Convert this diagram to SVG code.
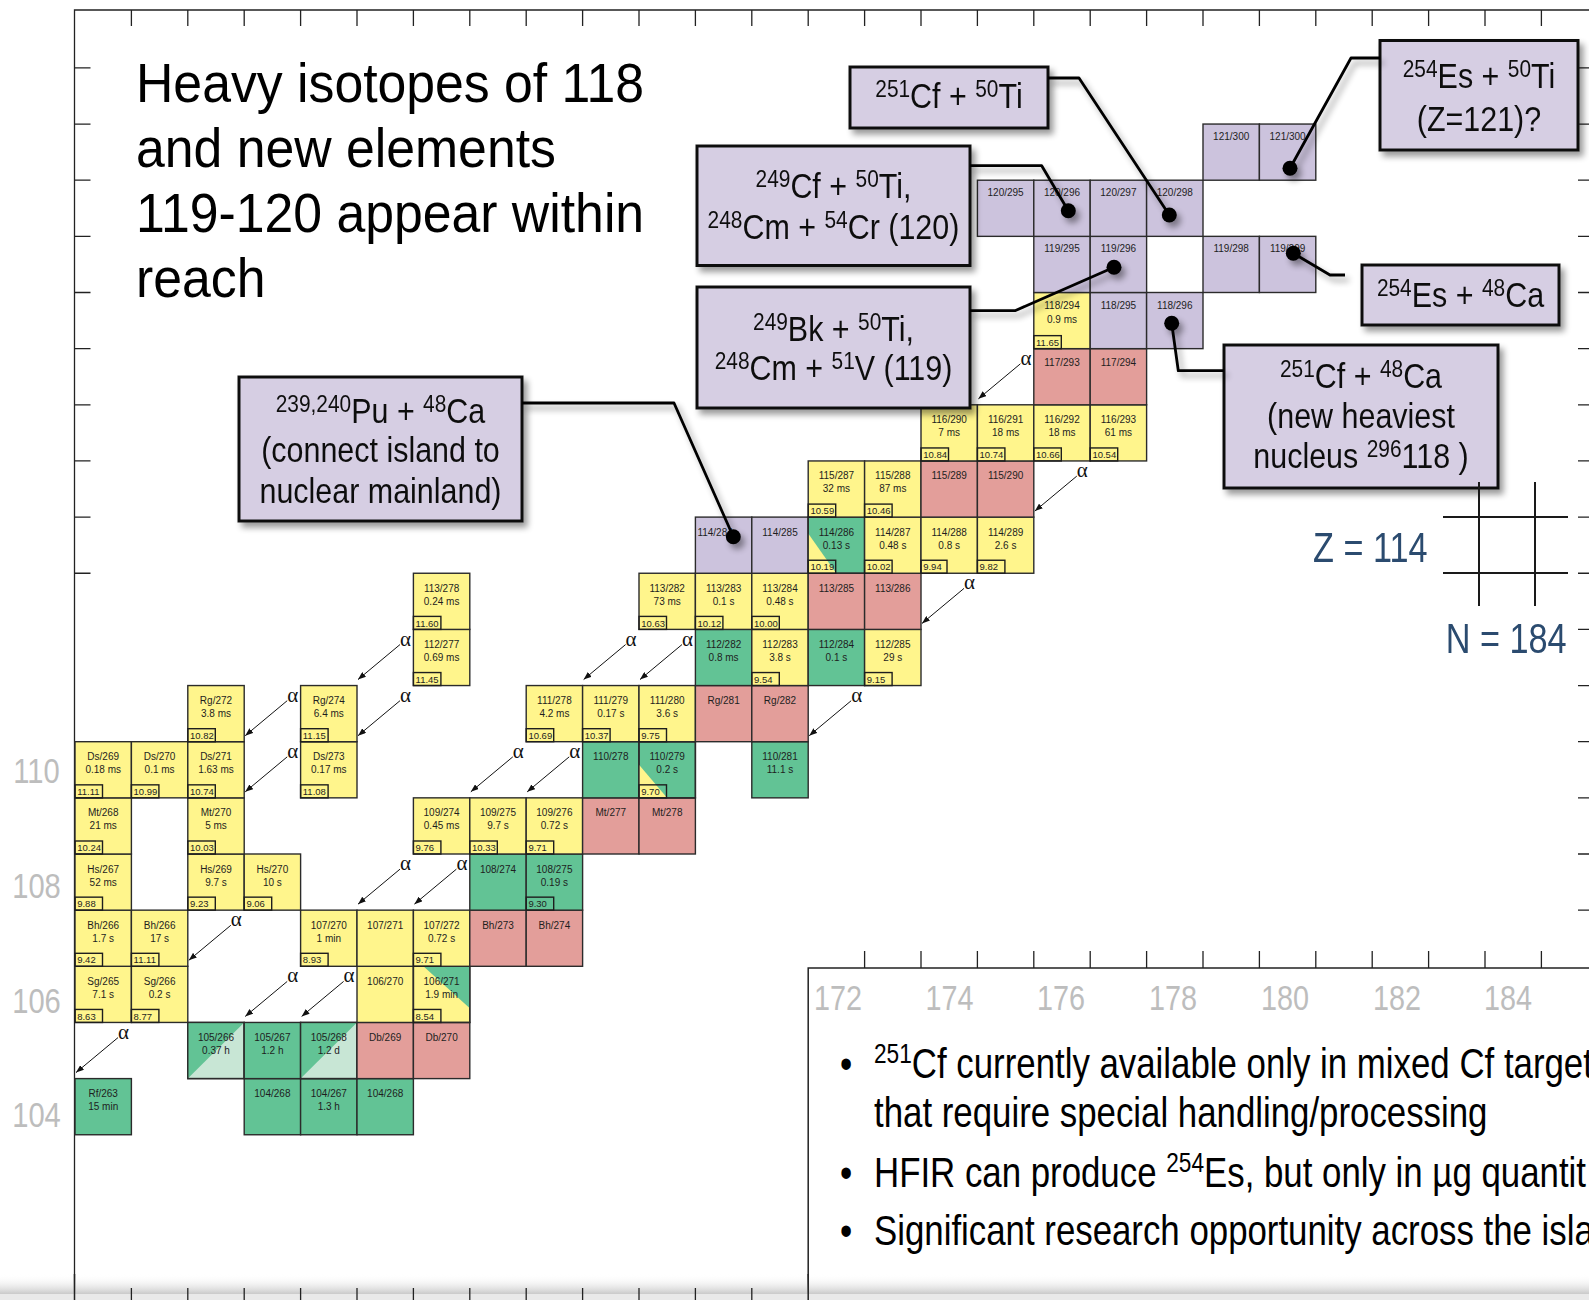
<svg xmlns="http://www.w3.org/2000/svg" width="1589" height="1300" viewBox="0 0 1589 1300">
<defs>
<style>
.y{fill:#FFF58C}.g{fill:#62C395}.r{fill:#E39E9A}.v{fill:#CCC3DD}.lg{fill:#C8E6D5}
.c{stroke:#2b2b2b;stroke-width:1.4}
.cb{fill:none;stroke:#2b2b2b;stroke-width:1.4}
.nb{fill:none;stroke:#1e1e1e;stroke-width:1.4}
.t{font-family:'Liberation Sans',Arial,sans-serif;font-size:10px;fill:#1e1e1e;text-anchor:middle}
.n{font-family:'Liberation Sans',Arial,sans-serif;font-size:9.5px;fill:#1e1e1e}
.tl{font-family:'Liberation Sans',Arial,sans-serif;font-size:10px;fill:#1e1e1e}
.tk{stroke:#222;stroke-width:1.3;fill:none}
.ax{font-family:'Liberation Sans',Arial,sans-serif;font-size:36px;fill:#BDBDBD;text-anchor:middle}
.ti{font-family:'Liberation Sans',Arial,sans-serif;font-size:56px;fill:#000}
.cl{font-family:'Liberation Sans',Arial,sans-serif;font-size:35px;fill:#111;text-anchor:middle}
.sp{font-size:24px}
.box{fill:#D6CEE3;stroke:#111;stroke-width:3}
.bt{font-family:'Liberation Sans',Arial,sans-serif;font-size:43px;fill:#000}
.bs{font-size:28px}
.zn{font-family:'Liberation Sans',Arial,sans-serif;font-size:42px;fill:#2B4B6F}
.al{font-family:'Liberation Serif','Times New Roman',serif;font-size:21px;fill:#111}
.ar{stroke:#111;stroke-width:1;fill:none;marker-end:url(#ah)}
.cn{fill:none;stroke:#000;stroke-width:2.8;stroke-linejoin:round}
</style>
<marker id="ah" markerWidth="8" markerHeight="6" refX="8" refY="3" orient="auto" markerUnits="userSpaceOnUse"><path d="M0,0 L8,3 L0,6 z" fill="#111"/></marker>
<filter id="sh" x="-20%" y="-20%" width="150%" height="160%"><feGaussianBlur in="SourceAlpha" stdDeviation="3"/><feOffset dx="4" dy="5"/><feComponentTransfer><feFuncA type="linear" slope="0.4"/></feComponentTransfer><feMerge><feMergeNode/><feMergeNode in="SourceGraphic"/></feMerge></filter>
<linearGradient id="bgr" x1="0" y1="0" x2="0" y2="1"><stop offset="0" stop-color="#ffffff" stop-opacity="0"/><stop offset="1" stop-color="#c9c9c9"/></linearGradient>
<clipPath id="bclip"><rect x="809" y="969" width="780" height="331"/></clipPath>
</defs>
<rect width="1589" height="1300" fill="#fff"/>

<g id="frame">
<path class="tk" d="M74.5,1300 V10 H1589"/>
<path class="tk" d="M131.4,10v16M187.8,10v16M244.2,10v16M300.6,10v16M357,10v16M413.4,10v16M469.8,10v16M526.2,10v16M582.6,10v16M639,10v16M695.4,10v16M751.8,10v16M808.2,10v16M864.6,10v16M921,10v16M977.4,10v16M1033.8,10v16M1090.2,10v16M1146.6,10v16M1203,10v16M1259.4,10v16M1315.8,10v16M1372.2,10v16M1428.6,10v16M1485,10v16M1541.4,10v16"/>
<path class="tk" d="M74.5,67.9h16M74.5,124.05h16M74.5,180.2h16M74.5,236.35h16M74.5,292.5h16M74.5,348.65h16M74.5,404.8h16M74.5,460.95h16M74.5,517.1h16M74.5,573.25h16"/>
<path class="tk" d="M1578,67.9h11M1578,124.05h11M1578,180.2h11M1578,236.35h11M1578,292.5h11M1578,348.65h11M1578,404.8h11M1578,460.95h11M1578,517.1h11M1578,573.25h11M1578,629.4h11M1578,685.55h11M1578,741.7h11M1578,797.85h11M1578,854h11M1578,910.15h11"/>
<text class="ax" transform="translate(36.5,783) scale(0.81,1)">110</text>
<text class="ax" transform="translate(36.5,898) scale(0.81,1)">108</text>
<text class="ax" transform="translate(36.5,1012.5) scale(0.81,1)">106</text>
<text class="ax" transform="translate(36.5,1127) scale(0.81,1)">104</text>
</g>

<g id="title" transform="translate(136,0) scale(0.924,1)">
<text class="ti" x="0" y="102.5">Heavy isotopes of 118</text>
<text class="ti" x="0" y="167">and new elements</text>
<text class="ti" x="0" y="232">119-120 appear within</text>
<text class="ti" x="0" y="297">reach</text>
</g>

<g id="cells">
<g id="n104-263" transform="translate(75,1078.6)"><rect class="c g" width="56.4" height="56.15"/><text class="t" x="28.2" y="18.5">Rf/263</text><text class="t" x="28.2" y="31.5">15 min</text></g>
<g id="n104-266" transform="translate(244.2,1078.6)"><rect class="c g" width="56.4" height="56.15"/><text class="t" x="28.2" y="18.5">104/268</text></g>
<g id="n104-267" transform="translate(300.6,1078.6)"><rect class="c g" width="56.4" height="56.15"/><text class="t" x="28.2" y="18.5">104/267</text><text class="t" x="28.2" y="31.5">1.3 h</text></g>
<g id="n104-268" transform="translate(357,1078.6)"><rect class="c g" width="56.4" height="56.15"/><text class="t" x="28.2" y="18.5">104/268</text></g>
<g id="n105-266" transform="translate(187.8,1022.45)"><rect class="c lg" width="56.4" height="56.15"/><polygon class="g" points="0,0 56.4,0 0,56.15"/><rect class="cb" width="56.4" height="56.15"/><text class="t" x="28.2" y="18.5">105/266</text><text class="t" x="28.2" y="31.5">0.37 h</text></g>
<g id="n105-267" transform="translate(244.2,1022.45)"><rect class="c g" width="56.4" height="56.15"/><text class="t" x="28.2" y="18.5">105/267</text><text class="t" x="28.2" y="31.5">1.2 h</text></g>
<g id="n105-268" transform="translate(300.6,1022.45)"><rect class="c lg" width="56.4" height="56.15"/><polygon class="g" points="0,0 56.4,0 0,56.15"/><rect class="cb" width="56.4" height="56.15"/><text class="t" x="28.2" y="18.5">105/268</text><text class="t" x="28.2" y="31.5">1.2 d</text></g>
<g id="n105-269" transform="translate(357,1022.45)"><rect class="c r" width="56.4" height="56.15"/><text class="t" x="28.2" y="18.5">Db/269</text></g>
<g id="n105-270" transform="translate(413.4,1022.45)"><rect class="c r" width="56.4" height="56.15"/><text class="t" x="28.2" y="18.5">Db/270</text></g>
<g id="n106-265" transform="translate(75,966.3)"><rect class="c y" width="56.4" height="56.15"/><text class="t" x="28.2" y="18.5">Sg/265</text><text class="t" x="28.2" y="31.5">7.1 s</text><rect class="nb" y="43.15" width="27.5" height="13"/><text class="n" x="2.2" y="53.3">8.63</text></g>
<g id="n106-266" transform="translate(131.4,966.3)"><rect class="c y" width="56.4" height="56.15"/><text class="t" x="28.2" y="18.5">Sg/266</text><text class="t" x="28.2" y="31.5">0.2 s</text><rect class="nb" y="43.15" width="27.5" height="13"/><text class="n" x="2.2" y="53.3">8.77</text></g>
<g id="n106-270" transform="translate(357,966.3)"><rect class="c y" width="56.4" height="56.15"/><text class="t" x="28.2" y="18.5">106/270</text></g>
<g id="n106-271" transform="translate(413.4,966.3)"><rect class="c y" width="56.4" height="56.15"/><polygon class="g" points="10,0 56.4,0 56.4,42"/><rect class="cb" width="56.4" height="56.15"/><text class="t" x="28.2" y="18.5">106/271</text><text class="t" x="28.2" y="31.5">1.9 min</text><rect class="nb" y="43.15" width="27.5" height="13"/><text class="n" x="2.2" y="53.3">8.54</text></g>
<g id="n107-266" transform="translate(75,910.15)"><rect class="c y" width="56.4" height="56.15"/><text class="t" x="28.2" y="18.5">Bh/266</text><text class="t" x="28.2" y="31.5">1.7 s</text><rect class="nb" y="43.15" width="27.5" height="13"/><text class="n" x="2.2" y="53.3">9.42</text></g>
<g id="n107-267" transform="translate(131.4,910.15)"><rect class="c y" width="56.4" height="56.15"/><text class="t" x="28.2" y="18.5">Bh/266</text><text class="t" x="28.2" y="31.5">17 s</text><rect class="nb" y="43.15" width="27.5" height="13"/><text class="n" x="2.2" y="53.3">11.11</text></g>
<g id="n107-270" transform="translate(300.6,910.15)"><rect class="c y" width="56.4" height="56.15"/><text class="t" x="28.2" y="18.5">107/270</text><text class="t" x="28.2" y="31.5">1 min</text><rect class="nb" y="43.15" width="27.5" height="13"/><text class="n" x="2.2" y="53.3">8.93</text></g>
<g id="n107-271" transform="translate(357,910.15)"><rect class="c y" width="56.4" height="56.15"/><text class="t" x="28.2" y="18.5">107/271</text></g>
<g id="n107-272" transform="translate(413.4,910.15)"><rect class="c y" width="56.4" height="56.15"/><text class="t" x="28.2" y="18.5">107/272</text><text class="t" x="28.2" y="31.5">0.72 s</text><rect class="nb" y="43.15" width="27.5" height="13"/><text class="n" x="2.2" y="53.3">9.71</text></g>
<g id="n107-273" transform="translate(469.8,910.15)"><rect class="c r" width="56.4" height="56.15"/><text class="t" x="28.2" y="18.5">Bh/273</text></g>
<g id="n107-274" transform="translate(526.2,910.15)"><rect class="c r" width="56.4" height="56.15"/><text class="t" x="28.2" y="18.5">Bh/274</text></g>
<g id="n108-267" transform="translate(75,854)"><rect class="c y" width="56.4" height="56.15"/><text class="t" x="28.2" y="18.5">Hs/267</text><text class="t" x="28.2" y="31.5">52 ms</text><rect class="nb" y="43.15" width="27.5" height="13"/><text class="n" x="2.2" y="53.3">9.88</text></g>
<g id="n108-269" transform="translate(187.8,854)"><rect class="c y" width="56.4" height="56.15"/><text class="t" x="28.2" y="18.5">Hs/269</text><text class="t" x="28.2" y="31.5">9.7 s</text><rect class="nb" y="43.15" width="27.5" height="13"/><text class="n" x="2.2" y="53.3">9.23</text></g>
<g id="n108-270" transform="translate(244.2,854)"><rect class="c y" width="56.4" height="56.15"/><text class="t" x="28.2" y="18.5">Hs/270</text><text class="t" x="28.2" y="31.5">10 s</text><rect class="nb" y="43.15" width="27.5" height="13"/><text class="n" x="2.2" y="53.3">9.06</text></g>
<g id="n108-274" transform="translate(469.8,854)"><rect class="c g" width="56.4" height="56.15"/><text class="t" x="28.2" y="18.5">108/274</text></g>
<g id="n108-275" transform="translate(526.2,854)"><rect class="c g" width="56.4" height="56.15"/><text class="t" x="28.2" y="18.5">108/275</text><text class="t" x="28.2" y="31.5">0.19 s</text><rect class="nb" y="43.15" width="27.5" height="13"/><text class="n" x="2.2" y="53.3">9.30</text></g>
<g id="n109-268" transform="translate(75,797.85)"><rect class="c y" width="56.4" height="56.15"/><text class="t" x="28.2" y="18.5">Mt/268</text><text class="t" x="28.2" y="31.5">21 ms</text><rect class="nb" y="43.15" width="27.5" height="13"/><text class="n" x="2.2" y="53.3">10.24</text></g>
<g id="n109-270" transform="translate(187.8,797.85)"><rect class="c y" width="56.4" height="56.15"/><text class="t" x="28.2" y="18.5">Mt/270</text><text class="t" x="28.2" y="31.5">5 ms</text><rect class="nb" y="43.15" width="27.5" height="13"/><text class="n" x="2.2" y="53.3">10.03</text></g>
<g id="n109-274" transform="translate(413.4,797.85)"><rect class="c y" width="56.4" height="56.15"/><text class="t" x="28.2" y="18.5">109/274</text><text class="t" x="28.2" y="31.5">0.45 ms</text><rect class="nb" y="43.15" width="27.5" height="13"/><text class="n" x="2.2" y="53.3">9.76</text></g>
<g id="n109-275" transform="translate(469.8,797.85)"><rect class="c y" width="56.4" height="56.15"/><text class="t" x="28.2" y="18.5">109/275</text><text class="t" x="28.2" y="31.5">9.7 s</text><rect class="nb" y="43.15" width="27.5" height="13"/><text class="n" x="2.2" y="53.3">10.33</text></g>
<g id="n109-276" transform="translate(526.2,797.85)"><rect class="c y" width="56.4" height="56.15"/><text class="t" x="28.2" y="18.5">109/276</text><text class="t" x="28.2" y="31.5">0.72 s</text><rect class="nb" y="43.15" width="27.5" height="13"/><text class="n" x="2.2" y="53.3">9.71</text></g>
<g id="n109-277" transform="translate(582.6,797.85)"><rect class="c r" width="56.4" height="56.15"/><text class="t" x="28.2" y="18.5">Mt/277</text></g>
<g id="n109-278" transform="translate(639,797.85)"><rect class="c r" width="56.4" height="56.15"/><text class="t" x="28.2" y="18.5">Mt/278</text></g>
<g id="n110-269" transform="translate(75,741.7)"><rect class="c y" width="56.4" height="56.15"/><text class="t" x="28.2" y="18.5">Ds/269</text><text class="t" x="28.2" y="31.5">0.18 ms</text><rect class="nb" y="43.15" width="27.5" height="13"/><text class="n" x="2.2" y="53.3">11.11</text></g>
<g id="n110-270" transform="translate(131.4,741.7)"><rect class="c y" width="56.4" height="56.15"/><text class="t" x="28.2" y="18.5">Ds/270</text><text class="t" x="28.2" y="31.5">0.1 ms</text><rect class="nb" y="43.15" width="27.5" height="13"/><text class="n" x="2.2" y="53.3">10.99</text></g>
<g id="n110-271" transform="translate(187.8,741.7)"><rect class="c y" width="56.4" height="56.15"/><text class="t" x="28.2" y="18.5">Ds/271</text><text class="t" x="28.2" y="31.5">1.63 ms</text><rect class="nb" y="43.15" width="27.5" height="13"/><text class="n" x="2.2" y="53.3">10.74</text></g>
<g id="n110-273" transform="translate(300.6,741.7)"><rect class="c y" width="56.4" height="56.15"/><text class="t" x="28.2" y="18.5">Ds/273</text><text class="t" x="28.2" y="31.5">0.17 ms</text><rect class="nb" y="43.15" width="27.5" height="13"/><text class="n" x="2.2" y="53.3">11.08</text></g>
<g id="n110-278" transform="translate(582.6,741.7)"><rect class="c g" width="56.4" height="56.15"/><text class="t" x="28.2" y="18.5">110/278</text></g>
<g id="n110-279" transform="translate(639,741.7)"><rect class="c g" width="56.4" height="56.15"/><polygon class="y" points="0,23 0,56.15 28,56.15"/><rect class="cb" width="56.4" height="56.15"/><text class="t" x="28.2" y="18.5">110/279</text><text class="t" x="28.2" y="31.5">0.2 s</text><rect class="nb" y="43.15" width="27.5" height="13"/><text class="n" x="2.2" y="53.3">9.70</text></g>
<g id="n110-281" transform="translate(751.8,741.7)"><rect class="c g" width="56.4" height="56.15"/><text class="t" x="28.2" y="18.5">110/281</text><text class="t" x="28.2" y="31.5">11.1 s</text></g>
<g id="n111-272" transform="translate(187.8,685.55)"><rect class="c y" width="56.4" height="56.15"/><text class="t" x="28.2" y="18.5">Rg/272</text><text class="t" x="28.2" y="31.5">3.8 ms</text><rect class="nb" y="43.15" width="27.5" height="13"/><text class="n" x="2.2" y="53.3">10.82</text></g>
<g id="n111-274" transform="translate(300.6,685.55)"><rect class="c y" width="56.4" height="56.15"/><text class="t" x="28.2" y="18.5">Rg/274</text><text class="t" x="28.2" y="31.5">6.4 ms</text><rect class="nb" y="43.15" width="27.5" height="13"/><text class="n" x="2.2" y="53.3">11.15</text></g>
<g id="n111-278" transform="translate(526.2,685.55)"><rect class="c y" width="56.4" height="56.15"/><text class="t" x="28.2" y="18.5">111/278</text><text class="t" x="28.2" y="31.5">4.2 ms</text><rect class="nb" y="43.15" width="27.5" height="13"/><text class="n" x="2.2" y="53.3">10.69</text></g>
<g id="n111-279" transform="translate(582.6,685.55)"><rect class="c y" width="56.4" height="56.15"/><text class="t" x="28.2" y="18.5">111/279</text><text class="t" x="28.2" y="31.5">0.17 s</text><rect class="nb" y="43.15" width="27.5" height="13"/><text class="n" x="2.2" y="53.3">10.37</text></g>
<g id="n111-280" transform="translate(639,685.55)"><rect class="c y" width="56.4" height="56.15"/><text class="t" x="28.2" y="18.5">111/280</text><text class="t" x="28.2" y="31.5">3.6 s</text><rect class="nb" y="43.15" width="27.5" height="13"/><text class="n" x="2.2" y="53.3">9.75</text></g>
<g id="n111-281" transform="translate(695.4,685.55)"><rect class="c r" width="56.4" height="56.15"/><text class="t" x="28.2" y="18.5">Rg/281</text></g>
<g id="n111-282" transform="translate(751.8,685.55)"><rect class="c r" width="56.4" height="56.15"/><text class="t" x="28.2" y="18.5">Rg/282</text></g>
<g id="n112-277" transform="translate(413.4,629.4)"><rect class="c y" width="56.4" height="56.15"/><text class="t" x="28.2" y="18.5">112/277</text><text class="t" x="28.2" y="31.5">0.69 ms</text><rect class="nb" y="43.15" width="27.5" height="13"/><text class="n" x="2.2" y="53.3">11.45</text></g>
<g id="n112-282" transform="translate(695.4,629.4)"><rect class="c g" width="56.4" height="56.15"/><text class="t" x="28.2" y="18.5">112/282</text><text class="t" x="28.2" y="31.5">0.8 ms</text></g>
<g id="n112-283" transform="translate(751.8,629.4)"><rect class="c y" width="56.4" height="56.15"/><text class="t" x="28.2" y="18.5">112/283</text><text class="t" x="28.2" y="31.5">3.8 s</text><rect class="nb" y="43.15" width="27.5" height="13"/><text class="n" x="2.2" y="53.3">9.54</text></g>
<g id="n112-284" transform="translate(808.2,629.4)"><rect class="c g" width="56.4" height="56.15"/><text class="t" x="28.2" y="18.5">112/284</text><text class="t" x="28.2" y="31.5">0.1 s</text></g>
<g id="n112-285" transform="translate(864.6,629.4)"><rect class="c y" width="56.4" height="56.15"/><text class="t" x="28.2" y="18.5">112/285</text><text class="t" x="28.2" y="31.5">29 s</text><rect class="nb" y="43.15" width="27.5" height="13"/><text class="n" x="2.2" y="53.3">9.15</text></g>
<g id="n113-278" transform="translate(413.4,573.25)"><rect class="c y" width="56.4" height="56.15"/><text class="t" x="28.2" y="18.5">113/278</text><text class="t" x="28.2" y="31.5">0.24 ms</text><rect class="nb" y="43.15" width="27.5" height="13"/><text class="n" x="2.2" y="53.3">11.60</text></g>
<g id="n113-282" transform="translate(639,573.25)"><rect class="c y" width="56.4" height="56.15"/><text class="t" x="28.2" y="18.5">113/282</text><text class="t" x="28.2" y="31.5">73 ms</text><rect class="nb" y="43.15" width="27.5" height="13"/><text class="n" x="2.2" y="53.3">10.63</text></g>
<g id="n113-283" transform="translate(695.4,573.25)"><rect class="c y" width="56.4" height="56.15"/><text class="t" x="28.2" y="18.5">113/283</text><text class="t" x="28.2" y="31.5">0.1 s</text><rect class="nb" y="43.15" width="27.5" height="13"/><text class="n" x="2.2" y="53.3">10.12</text></g>
<g id="n113-284" transform="translate(751.8,573.25)"><rect class="c y" width="56.4" height="56.15"/><text class="t" x="28.2" y="18.5">113/284</text><text class="t" x="28.2" y="31.5">0.48 s</text><rect class="nb" y="43.15" width="27.5" height="13"/><text class="n" x="2.2" y="53.3">10.00</text></g>
<g id="n113-285" transform="translate(808.2,573.25)"><rect class="c r" width="56.4" height="56.15"/><text class="t" x="28.2" y="18.5">113/285</text></g>
<g id="n113-286" transform="translate(864.6,573.25)"><rect class="c r" width="56.4" height="56.15"/><text class="t" x="28.2" y="18.5">113/286</text></g>
<g id="n114-284" transform="translate(695.4,517.1)"><rect class="c v" width="56.4" height="56.15"/><text class="tl" x="2" y="18.5">114/284</text></g>
<g id="n114-285" transform="translate(751.8,517.1)"><rect class="c v" width="56.4" height="56.15"/><text class="t" x="28.2" y="18.5">114/285</text></g>
<g id="n114-286" transform="translate(808.2,517.1)"><rect class="c g" width="56.4" height="56.15"/><polygon class="y" points="0,16.5 0,56.15 28,56.15"/><rect class="cb" width="56.4" height="56.15"/><text class="t" x="28.2" y="18.5">114/286</text><text class="t" x="28.2" y="31.5">0.13 s</text><rect class="nb" y="43.15" width="27.5" height="13"/><text class="n" x="2.2" y="53.3">10.19</text></g>
<g id="n114-287" transform="translate(864.6,517.1)"><rect class="c y" width="56.4" height="56.15"/><text class="t" x="28.2" y="18.5">114/287</text><text class="t" x="28.2" y="31.5">0.48 s</text><rect class="nb" y="43.15" width="27.5" height="13"/><text class="n" x="2.2" y="53.3">10.02</text></g>
<g id="n114-288" transform="translate(921,517.1)"><rect class="c y" width="56.4" height="56.15"/><text class="t" x="28.2" y="18.5">114/288</text><text class="t" x="28.2" y="31.5">0.8 s</text><rect class="nb" y="43.15" width="26" height="13"/><text class="n" x="2.2" y="53.3">9.94</text></g>
<g id="n114-289" transform="translate(977.4,517.1)"><rect class="c y" width="56.4" height="56.15"/><text class="t" x="28.2" y="18.5">114/289</text><text class="t" x="28.2" y="31.5">2.6 s</text><rect class="nb" y="43.15" width="27.5" height="13"/><text class="n" x="2.2" y="53.3">9.82</text></g>
<g id="n115-287" transform="translate(808.2,460.95)"><rect class="c y" width="56.4" height="56.15"/><text class="t" x="28.2" y="18.5">115/287</text><text class="t" x="28.2" y="31.5">32 ms</text><rect class="nb" y="43.15" width="27.5" height="13"/><text class="n" x="2.2" y="53.3">10.59</text></g>
<g id="n115-288" transform="translate(864.6,460.95)"><rect class="c y" width="56.4" height="56.15"/><text class="t" x="28.2" y="18.5">115/288</text><text class="t" x="28.2" y="31.5">87 ms</text><rect class="nb" y="43.15" width="27.5" height="13"/><text class="n" x="2.2" y="53.3">10.46</text></g>
<g id="n115-289" transform="translate(921,460.95)"><rect class="c r" width="56.4" height="56.15"/><text class="t" x="28.2" y="18.5">115/289</text></g>
<g id="n115-290" transform="translate(977.4,460.95)"><rect class="c r" width="56.4" height="56.15"/><text class="t" x="28.2" y="18.5">115/290</text></g>
<g id="n116-290" transform="translate(921,404.8)"><rect class="c y" width="56.4" height="56.15"/><text class="t" x="28.2" y="18">116/290</text><text class="t" x="28.2" y="31">7 ms</text><rect class="nb" y="43.15" width="27.5" height="13"/><text class="n" x="2.2" y="53.3">10.84</text></g>
<g id="n116-291" transform="translate(977.4,404.8)"><rect class="c y" width="56.4" height="56.15"/><text class="t" x="28.2" y="18">116/291</text><text class="t" x="28.2" y="31">18 ms</text><rect class="nb" y="43.15" width="27.5" height="13"/><text class="n" x="2.2" y="53.3">10.74</text></g>
<g id="n116-292" transform="translate(1033.8,404.8)"><rect class="c y" width="56.4" height="56.15"/><text class="t" x="28.2" y="18">116/292</text><text class="t" x="28.2" y="31">18 ms</text><rect class="nb" y="43.15" width="27.5" height="13"/><text class="n" x="2.2" y="53.3">10.66</text></g>
<g id="n116-293" transform="translate(1090.2,404.8)"><rect class="c y" width="56.4" height="56.15"/><text class="t" x="28.2" y="18">116/293</text><text class="t" x="28.2" y="31">61 ms</text><rect class="nb" y="43.15" width="27.5" height="13"/><text class="n" x="2.2" y="53.3">10.54</text></g>
<g id="n117-293" transform="translate(1033.8,348.65)"><rect class="c r" width="56.4" height="56.15"/><text class="t" x="28.2" y="17.5">117/293</text></g>
<g id="n117-294" transform="translate(1090.2,348.65)"><rect class="c r" width="56.4" height="56.15"/><text class="t" x="28.2" y="17.5">117/294</text></g>
<g id="n118-294" transform="translate(1033.8,292.5)"><rect class="c y" width="56.4" height="56.15"/><text class="t" x="28.2" y="16.5">118/294</text><text class="t" x="28.2" y="30">0.9 ms</text><rect class="nb" y="43.15" width="27.5" height="13"/><text class="n" x="2.2" y="53.3">11.65</text></g>
<g id="n118-295" transform="translate(1090.2,292.5)"><rect class="c v" width="56.4" height="56.15"/><text class="t" x="28.2" y="16">118/295</text></g>
<g id="n118-296" transform="translate(1146.6,292.5)"><rect class="c v" width="56.4" height="56.15"/><text class="t" x="28.2" y="16">118/296</text></g>
<g id="n119-295" transform="translate(1033.8,236.35)"><rect class="c v" width="56.4" height="56.15"/><text class="t" x="28.2" y="16">119/295</text></g>
<g id="n119-296" transform="translate(1090.2,236.35)"><rect class="c v" width="56.4" height="56.15"/><text class="t" x="28.2" y="16">119/296</text></g>
<g id="n119-298" transform="translate(1203,236.35)"><rect class="c v" width="56.4" height="56.15"/><text class="t" x="28.2" y="16">119/298</text></g>
<g id="n119-299" transform="translate(1259.4,236.35)"><rect class="c v" width="56.4" height="56.15"/><text class="t" x="28.2" y="16">119/299</text></g>
<g id="n120-295" transform="translate(977.4,180.2)"><rect class="c v" width="56.4" height="56.15"/><text class="t" x="28.2" y="16">120/295</text></g>
<g id="n120-296" transform="translate(1033.8,180.2)"><rect class="c v" width="56.4" height="56.15"/><text class="t" x="28.2" y="16">120/296</text></g>
<g id="n120-297" transform="translate(1090.2,180.2)"><rect class="c v" width="56.4" height="56.15"/><text class="t" x="28.2" y="16">120/297</text></g>
<g id="n120-298" transform="translate(1146.6,180.2)"><rect class="c v" width="56.4" height="56.15"/><text class="t" x="28.2" y="16">120/298</text></g>
<g id="n121-300" transform="translate(1203,124.05)"><rect class="c v" width="56.4" height="56.15"/><text class="t" x="28.2" y="16">121/300</text></g>
<g id="n121-301" transform="translate(1259.4,124.05)"><rect class="c v" width="56.4" height="56.15"/><text class="t" x="28.2" y="16">121/300</text></g>
</g>

<g id="alpha-decays">
<line class="ar" x1="287.2" y1="700.7" x2="245.2" y2="735.7"/><text class="al" x="287.2" y="701.7">α</text>
<line class="ar" x1="400" y1="700.7" x2="358" y2="735.7"/><text class="al" x="400" y="701.7">α</text>
<line class="ar" x1="287.2" y1="756.85" x2="245.2" y2="791.85"/><text class="al" x="287.2" y="757.85">α</text>
<line class="ar" x1="400" y1="644.55" x2="358" y2="679.55"/><text class="al" x="400" y="645.55">α</text>
<line class="ar" x1="625.6" y1="644.55" x2="583.6" y2="679.55"/><text class="al" x="625.6" y="645.55">α</text>
<line class="ar" x1="682" y1="644.55" x2="640" y2="679.55"/><text class="al" x="682" y="645.55">α</text>
<line class="ar" x1="512.8" y1="756.85" x2="470.8" y2="791.85"/><text class="al" x="512.8" y="757.85">α</text>
<line class="ar" x1="569.2" y1="756.85" x2="527.2" y2="791.85"/><text class="al" x="569.2" y="757.85">α</text>
<line class="ar" x1="400" y1="869.15" x2="358" y2="904.15"/><text class="al" x="400" y="870.15">α</text>
<line class="ar" x1="456.4" y1="869.15" x2="414.4" y2="904.15"/><text class="al" x="456.4" y="870.15">α</text>
<line class="ar" x1="230.8" y1="925.3" x2="188.8" y2="960.3"/><text class="al" x="230.8" y="926.3">α</text>
<line class="ar" x1="287.2" y1="981.45" x2="245.2" y2="1016.45"/><text class="al" x="287.2" y="982.45">α</text>
<line class="ar" x1="343.6" y1="981.45" x2="301.6" y2="1016.45"/><text class="al" x="343.6" y="982.45">α</text>
<line class="ar" x1="118" y1="1037.6" x2="76" y2="1072.6"/><text class="al" x="118" y="1038.6">α</text>
<line class="ar" x1="851.2" y1="700.7" x2="809.2" y2="735.7"/><text class="al" x="851.2" y="701.7">α</text>
<line class="ar" x1="964" y1="588.4" x2="922" y2="623.4"/><text class="al" x="964" y="589.4">α</text>
<line class="ar" x1="1076.8" y1="476.1" x2="1034.8" y2="511.1"/><text class="al" x="1076.8" y="477.1">α</text>
<line class="ar" x1="1020.4" y1="363.8" x2="978.4" y2="398.8"/><text class="al" x="1020.4" y="364.8">α</text>
</g>

<g id="callouts" filter="url(#sh)">
<g id="b-cf-ti"><rect class="box" x="850" y="67" width="198" height="61"/>
<text class="cl" transform="translate(949,107.5) scale(0.87,1)"><tspan class="sp" dy="-11">251</tspan><tspan dy="11">Cf + </tspan><tspan class="sp" dy="-11">50</tspan><tspan dy="11">Ti</tspan></text></g>
<g id="b-es-ti"><rect class="box" x="1380" y="40.5" width="198" height="109.5"/>
<text class="cl" transform="translate(1479,87.5) scale(0.87,1)"><tspan class="sp" dy="-11">254</tspan><tspan dy="11">Es + </tspan><tspan class="sp" dy="-11">50</tspan><tspan dy="11">Ti</tspan></text>
<text class="cl" transform="translate(1479,131) scale(0.87,1)">(Z=121)?</text></g>
<g id="b-120"><rect class="box" x="697" y="146" width="273" height="119.5"/>
<text class="cl" transform="translate(833.5,197.6) scale(0.87,1)"><tspan class="sp" dy="-11">249</tspan><tspan dy="11">Cf + </tspan><tspan class="sp" dy="-11">50</tspan><tspan dy="11">Ti,</tspan></text>
<text class="cl" transform="translate(833.5,239) scale(0.87,1)"><tspan class="sp" dy="-11">248</tspan><tspan dy="11">Cm + </tspan><tspan class="sp" dy="-11">54</tspan><tspan dy="11">Cr (120)</tspan></text></g>
<g id="b-119"><rect class="box" x="697" y="287" width="273" height="121"/>
<text class="cl" transform="translate(833.5,340.5) scale(0.87,1)"><tspan class="sp" dy="-11">249</tspan><tspan dy="11">Bk + </tspan><tspan class="sp" dy="-11">50</tspan><tspan dy="11">Ti,</tspan></text>
<text class="cl" transform="translate(833.5,380) scale(0.87,1)"><tspan class="sp" dy="-11">248</tspan><tspan dy="11">Cm + </tspan><tspan class="sp" dy="-11">51</tspan><tspan dy="11">V (119)</tspan></text></g>
<g id="b-pu"><rect class="box" x="239" y="377" width="283" height="144"/>
<text class="cl" transform="translate(380.5,422.6) scale(0.87,1)"><tspan class="sp" dy="-11">239,240</tspan><tspan dy="11">Pu + </tspan><tspan class="sp" dy="-11">48</tspan><tspan dy="11">Ca</tspan></text>
<text class="cl" transform="translate(380.5,462) scale(0.87,1)">(connect island to</text>
<text class="cl" transform="translate(380.5,502.6) scale(0.87,1)">nuclear mainland)</text></g>
<g id="b-es-ca"><rect class="box" x="1362" y="265" width="197" height="60"/>
<text class="cl" transform="translate(1460.5,307.3) scale(0.87,1)"><tspan class="sp" dy="-11">254</tspan><tspan dy="11">Es + </tspan><tspan class="sp" dy="-11">48</tspan><tspan dy="11">Ca</tspan></text></g>
<g id="b-cf-ca"><rect class="box" x="1224" y="345" width="274" height="143"/>
<text class="cl" transform="translate(1361,388.3) scale(0.87,1)"><tspan class="sp" dy="-11">251</tspan><tspan dy="11">Cf + </tspan><tspan class="sp" dy="-11">48</tspan><tspan dy="11">Ca</tspan></text>
<text class="cl" transform="translate(1361,428.3) scale(0.87,1)">(new heaviest</text>
<text class="cl" transform="translate(1361,468.3) scale(0.87,1)">nucleus <tspan class="sp" dy="-11">296</tspan><tspan dy="11">118 )</tspan></text></g>
</g>

<g id="connectors" filter="url(#sh)">
<polyline class="cn" points="1048,78 1079,78 1169.3,215"/><circle cx="1169.3" cy="215" r="7.5"/>
<polyline class="cn" points="970,165.7 1041.7,165.7 1068.3,210.7"/><circle cx="1068.3" cy="210.7" r="7.5"/>
<polyline class="cn" points="970,310.7 1015,310.7 1114,267.3"/><circle cx="1114" cy="267.3" r="7.5"/>
<polyline class="cn" points="522,403 674,403 733.3,536.7"/><circle cx="733.3" cy="536.7" r="7.5"/>
<polyline class="cn" points="1380,58 1351,58 1290,168.3"/><circle cx="1290" cy="168.3" r="7.5"/>
<polyline class="cn" points="1345,275 1330,275 1293.3,253.3"/><circle cx="1293.3" cy="253.3" r="7.5"/>
<polyline class="cn" points="1224,370.7 1178.3,370.7 1171.7,323.3"/><circle cx="1171.7" cy="323.3" r="7.5"/>
</g>

<g id="shell-inset">
<path stroke="#1a1a1a" stroke-width="2" fill="none" d="M1443,517H1568M1443,573H1568M1479,482V606M1535,482V606"/>
<text class="zn" transform="translate(1313,561.7) scale(0.815,1)">Z = 114</text>
<text class="zn" transform="translate(1445.7,653.3) scale(0.816,1)">N = 184</text>
</g>

<g id="notes">
<path class="tk" d="M864.6,951v17M921,951v17M977.4,951v17M1033.8,951v17M1090.2,951v17M1146.6,951v17M1203,951v17M1259.4,951v17M1315.8,951v17M1372.2,951v17M1428.6,951v17M1485,951v17M1541.4,951v17"/>
<rect x="808.2" y="968" width="800" height="400" fill="#fff" stroke="#222" stroke-width="1.5"/>
<text class="ax" transform="translate(838,1010) scale(0.8,1)">172</text>
<text class="ax" transform="translate(949.5,1010) scale(0.8,1)">174</text>
<text class="ax" transform="translate(1061,1010) scale(0.8,1)">176</text>
<text class="ax" transform="translate(1173,1010) scale(0.8,1)">178</text>
<text class="ax" transform="translate(1285,1010) scale(0.8,1)">180</text>
<text class="ax" transform="translate(1397,1010) scale(0.8,1)">182</text>
<text class="ax" transform="translate(1508,1010) scale(0.8,1)">184</text>
<g clip-path="url(#bclip)"><g transform="translate(874,0) scale(0.81,1)">
<text class="bt" x="-42" y="1078">•</text>
<text class="bt" x="0" y="1078"><tspan class="bs" dy="-15">251</tspan><tspan dy="15">Cf currently available only in mixed Cf target</tspan></text>
<text class="bt" x="0" y="1127.5">that require special handling/processing</text>
<text class="bt" x="-42" y="1187.5">•</text>
<text class="bt" x="0" y="1187.5">HFIR can produce <tspan class="bs" dy="-15">254</tspan><tspan dy="15">Es, but only in µg quantit</tspan></text>
<text class="bt" x="-42" y="1245">•</text>
<text class="bt" x="0" y="1245">Significant research opportunity across the isla</text>
</g></g>
</g>

<g id="slide-edge">
<rect x="0" y="1274" width="1589" height="20" fill="url(#bgr)"/>
<rect x="0" y="1294" width="1589" height="6" fill="#e9e9e9"/>
<path class="tk" d="M131.4,1288v12M187.8,1288v12M244.2,1288v12M300.6,1288v12M357,1288v12M413.4,1288v12M469.8,1288v12M526.2,1288v12M582.6,1288v12M639,1288v12M695.4,1288v12M751.8,1288v12"/>
<path stroke="#222" stroke-width="1.5" d="M74.5,1274V1300M808.2,1274V1300"/>
</g>
</svg>
